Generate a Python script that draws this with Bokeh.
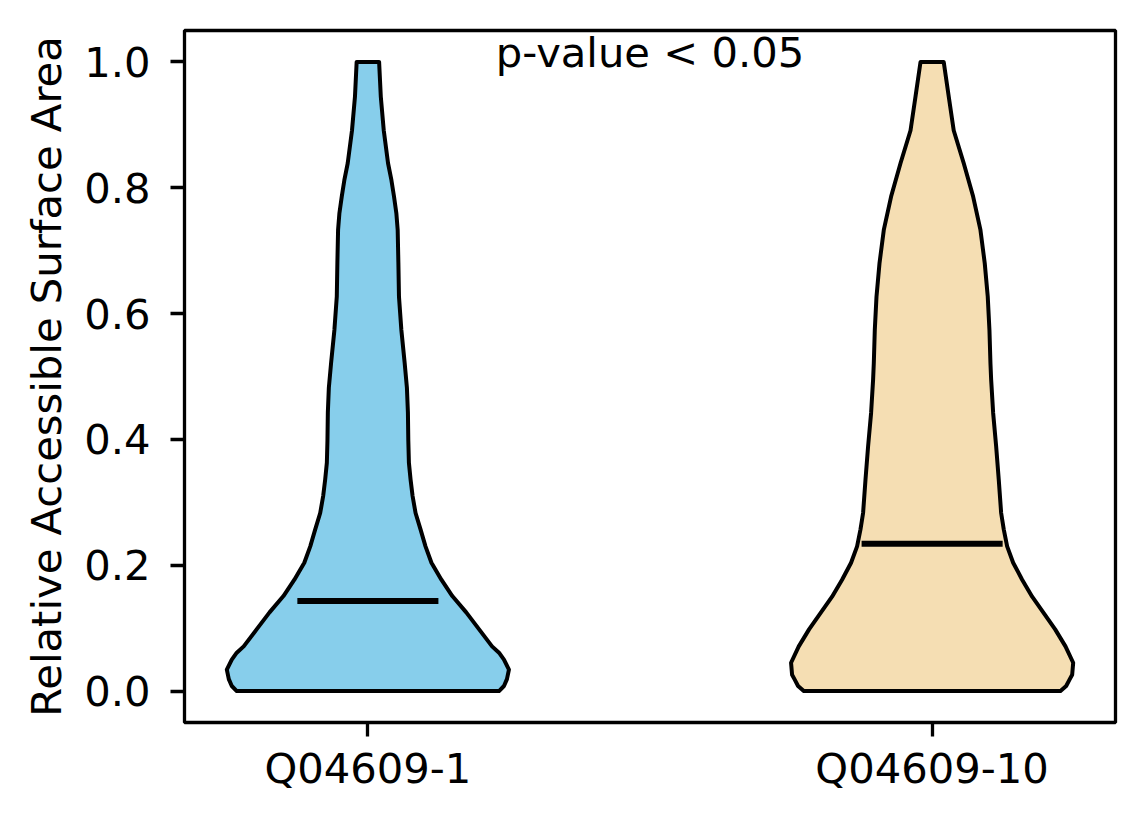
from bokeh.plotting import figure
from bokeh.models import Range1d, FixedTicker, PrintfTickFormatter
from bokeh.core.properties import value
from bokeh.embed import file_html
from bokeh.resources import INLINE

# ---- data ----
categories = ["Q04609-1", "Q04609-10"]
positions = [1, 2]
colors = ["#87CEEB", "#F5DEB3"]
medians = [0.143, 0.234]

# violin 1: y values and relative half-width (density, scaled so max = 1)
v1_y = [0.000, 0.008, 0.019, 0.034, 0.050, 0.061, 0.071, 0.098, 0.125, 0.151,
        0.177, 0.204, 0.230, 0.257, 0.283, 0.310, 0.336, 0.363, 0.398, 0.443,
        0.482, 0.522, 0.574, 0.627, 0.681, 0.733, 0.759, 0.786, 0.812, 0.839,
        0.891, 0.945, 1.000]
v1_d = [132, 137, 140, 142, 137, 132, 125, 112, 99, 85,
        74, 64, 58, 53, 48, 45, 43, 41.3, 40.7, 40.3,
        39.3, 37, 33.7, 31.3, 30.7, 30, 28.7, 26.3, 23.7, 20.3,
        16, 13, 11.3]

# violin 2
v2_y = [0.000, 0.008, 0.019, 0.026, 0.045, 0.071, 0.098, 0.124, 0.150, 0.177,
        0.204, 0.230, 0.257, 0.283, 0.336, 0.389, 0.442, 0.495, 0.521, 0.574,
        0.627, 0.680, 0.733, 0.786, 0.839, 0.891, 0.945, 1.000]
v2_d = [128.3, 134, 137.6, 140, 141, 133.3, 123, 111.6, 100, 90,
        81, 75, 71.6, 69, 66.6, 64, 61, 59, 58.3, 57.3,
        55.6, 52.6, 48.3, 41, 31.6, 21.6, 16.6, 11.6]

y_ticks = [0.0, 0.2, 0.4, 0.6, 0.8, 1.0]
y_label = "Relative Accessible Surface Area"
annotation = "p-value < 0.05"

violin_width = 0.5
FONT = "DejaVu Sans"
FS = "41.7px"

p = figure(width=1136, height=816, output_backend="svg", toolbar_location=None,
           x_range=Range1d(0.675, 2.325), y_range=Range1d(-0.05, 1.05),
           min_border_left=184, min_border_right=21, min_border_top=30,
           min_border_bottom=94)

p.xgrid.visible = False
p.ygrid.visible = False
p.outline_line_color = "black"
p.outline_line_width = 3.3
p.background_fill_color = "white"
p.border_fill_color = "white"

for pos, col, ys, ds, med in zip(positions, colors, [v1_y, v2_y], [v1_d, v2_d], medians):
    m = max(ds)
    half = [violin_width / 2 * d / m for d in ds]
    xs = [pos + h for h in half] + [pos - h for h in reversed(half)]
    yy = list(ys) + list(reversed(ys))
    p.patch(xs, yy, fill_color=col, fill_alpha=1.0, line_color="black",
            line_width=4, line_join="round")
    p.segment(x0=[pos - violin_width / 4], x1=[pos + violin_width / 4],
              y0=[med], y1=[med], line_color="black", line_width=6)

p.text(x=[sum(positions) / 2], y=[1.015], text=[annotation],
       text_font=value(FONT), text_font_size=FS, text_align="center",
       text_baseline="alphabetic", text_color="black")

for ax in (p.xaxis, p.yaxis):
    ax.axis_line_color = None
    ax.major_tick_line_color = "black"
    ax.major_tick_line_width = 3.3
    ax.major_tick_out = 14
    ax.major_tick_in = 0
    ax.minor_tick_line_color = None
    ax.major_label_text_font = FONT
    ax.major_label_text_font_size = FS
    ax.major_label_text_color = "black"

p.xaxis.ticker = FixedTicker(ticks=positions)
p.xaxis.major_label_overrides = {pos: c for pos, c in zip(positions, categories)}
p.xaxis.major_label_standoff = 7

p.yaxis.ticker = FixedTicker(ticks=y_ticks)
p.yaxis.formatter = PrintfTickFormatter(format="%.1f")
p.yaxis.major_label_standoff = 20
p.yaxis.axis_label = y_label
p.yaxis.axis_label_text_font = FONT
p.yaxis.axis_label_text_font_size = FS
p.yaxis.axis_label_text_font_style = "normal"
p.yaxis.axis_label_text_color = "black"
p.yaxis.axis_label_standoff = 10

open("out.html", "w").write(file_html(p, INLINE))
